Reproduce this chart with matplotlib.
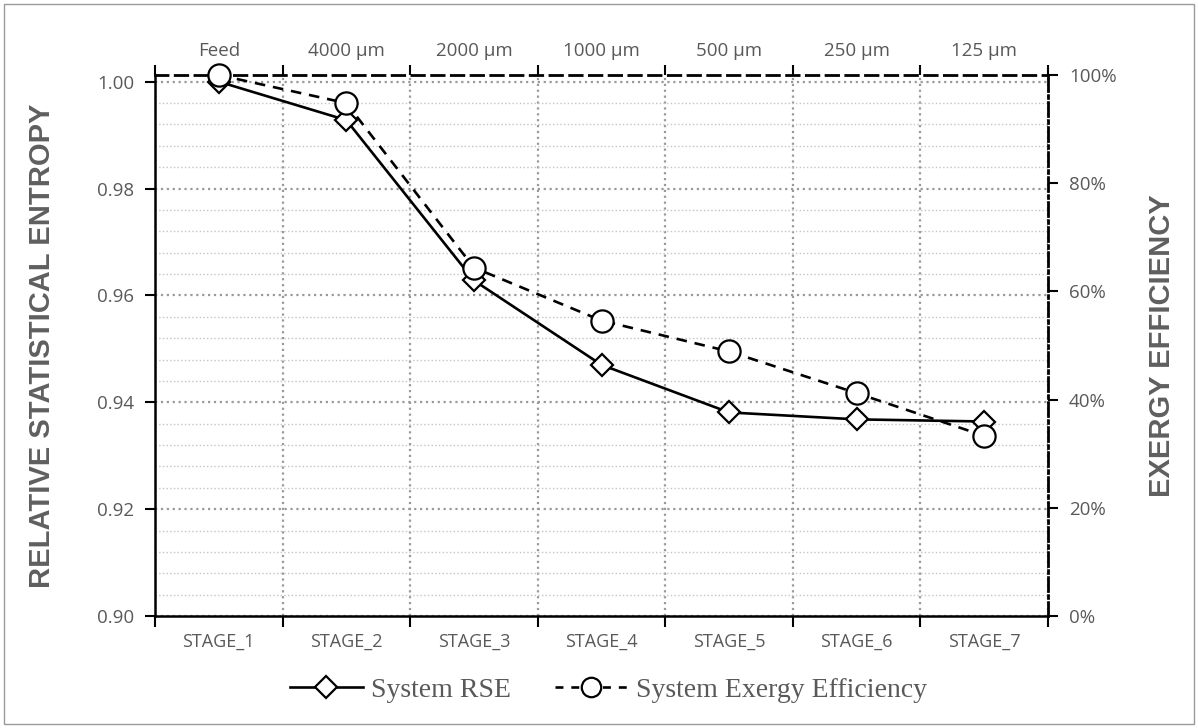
import matplotlib
matplotlib.use("Agg")
import matplotlib.pyplot as plt
from matplotlib.lines import Line2D
from matplotlib.patches import Rectangle
from matplotlib.ticker import PercentFormatter, FixedLocator
import numpy as np

# ---- data ----
stages = ["STAGE_1", "STAGE_2", "STAGE_3", "STAGE_4", "STAGE_5", "STAGE_6", "STAGE_7"]
sizes = ["Feed", "4000 µm", "2000 µm", "1000 µm", "500 µm", "250 µm", "125 µm"]
rse = [1.000, 0.9928, 0.9628, 0.9470, 0.9381, 0.9368, 0.9364]
exergy = [1.000, 0.948, 0.644, 0.546, 0.489, 0.412, 0.333]
left_ticks = [0.90, 0.92, 0.94, 0.96, 0.98, 1.00]
right_ticks = [0.0, 0.2, 0.4, 0.6, 0.8, 1.0]

TXT = "#595959"
SANS = "Open Sans"
BOLD = "Liberation Sans"

fig = plt.figure(figsize=(11.98, 7.28), dpi=100)
W, H = 1198, 728
ax = fig.add_axes([155 / W, (H - 616) / H, 893 / W, 541 / H])

x = np.arange(1, len(stages) + 1)
bounds = np.arange(0.5, len(stages) + 1, 1.0)

ax.set_xlim(0.5, len(stages) + 0.5)
ax.set_ylim(0.90, 1.00125)

# y ticks & grid
ax.yaxis.set_major_locator(FixedLocator(left_ticks))
ax.yaxis.set_minor_locator(FixedLocator(np.arange(0.904, 1.0, 0.004)))
ax.yaxis.set_major_formatter("{x:.2f}")
ax.tick_params(axis="y", which="major", direction="out", length=7, width=1.5,
               color="black", labelsize=13.5, labelcolor=TXT, pad=8)
ax.tick_params(axis="y", which="minor", length=0)
for lab in ax.get_yticklabels():
    lab.set_fontfamily(SANS)

# x ticks: boundaries as major (tick marks), centres as minor (labels)
ax.xaxis.set_major_locator(FixedLocator(bounds))
ax.xaxis.set_minor_locator(FixedLocator(x))
ax.set_xticklabels([])
ax.set_xticklabels(stages, minor=True, fontfamily=SANS)
ax.tick_params(axis="x", which="major", direction="out", length=8, width=1.5, color="black")
ax.tick_params(axis="x", which="minor", length=0, labelsize=13, labelcolor=TXT, pad=12)

ax.grid(axis="y", which="minor", color="#c4c4c4", ls=":", lw=1.0)
ax.grid(axis="y", which="major", color="#9a9a9a", ls=":", lw=1.6)
ax.grid(axis="x", which="major", color="#9a9a9a", ls=":", lw=1.6)
ax.set_axisbelow(True)

for s in ("left", "bottom"):
    ax.spines[s].set_color("black")
    ax.spines[s].set_linewidth(1.8)
ax.spines["top"].set_visible(False)
ax.spines["right"].set_visible(False)

# top axis with size classes
top = ax.secondary_xaxis("top")
top.set_xticks(bounds)
top.set_xticklabels([""] * len(bounds))
top.set_xticks(x, minor=True)
top.set_xticklabels(sizes, minor=True, fontfamily=SANS)
top.tick_params(axis="x", which="major", direction="out", length=7, width=1.5, color="black")
top.tick_params(axis="x", which="minor", length=0, labelsize=13.5, labelcolor=TXT, pad=11)
top.spines["top"].set_linestyle((0, (4.5, 2.6)))
top.spines["top"].set_linewidth(2.0)
top.spines["top"].set_color("black")

# right axis
ax2 = ax.twinx()
ax2.set_ylim(0, 1)
ax2.yaxis.set_major_locator(FixedLocator(right_ticks))
ax2.yaxis.set_major_formatter(PercentFormatter(1.0, decimals=0))
ax2.tick_params(axis="y", direction="out", length=7, width=1.5, color="black",
                labelsize=13.5, labelcolor=TXT, pad=8)
for lab in ax2.get_yticklabels():
    lab.set_fontfamily(SANS)
for s in ("left", "bottom", "top"):
    ax2.spines[s].set_visible(False)
ax2.spines["right"].set_linestyle((0, (5, 1.5, 1, 1.5)))
ax2.spines["right"].set_linewidth(2.0)
ax2.spines["right"].set_color("black")

# series
l1, = ax.plot(x, rse, color="black", lw=1.9, marker="D", ms=11.5, mfc="white",
              mec="black", mew=1.6, clip_on=False, zorder=5, label="System RSE")
l2, = ax2.plot(x, exergy, color="black", lw=1.9, ls=(0, (4, 3)), marker="o", ms=16,
               mfc="white", mec="black", mew=1.6, clip_on=False, zorder=6,
               label="System Exergy Efficiency")

# axis titles
ax.set_ylabel("RELATIVE STATISTICAL ENTROPY", fontsize=21, fontweight="bold",
              color="#5f5f5f", fontfamily=BOLD)
ax.yaxis.set_label_coords(-(155 - 56) / 893, 0.5)
ax2.set_ylabel("EXERGY EFFICIENCY", fontsize=21, fontweight="bold",
               color="#5f5f5f", fontfamily=BOLD)
ax2.yaxis.set_label_coords((1148 - 155) / 893, 0.5)

# legend
h1 = Line2D([], [], color="black", lw=1.9, marker="D", ms=11.5, mfc="white", mec="black", mew=1.6)
h2 = Line2D([], [], color="black", lw=1.9, ls=(0, (3, 3)), marker="o", ms=14, mfc="white", mec="black", mew=1.6)
leg = fig.legend([h1, h2], ["System RSE", "System Exergy Efficiency"], loc="center",
                 bbox_to_anchor=(0.508, 38 / H), ncol=2, frameon=False, handlelength=2.6,
                 columnspacing=1.6, handletextpad=0.3,
                 prop={"family": "Liberation Serif", "size": 20})
for t in leg.get_texts():
    t.set_color(TXT)

# chart border
fig.add_artist(Rectangle((4 / W, 4 / H), 1 - 8 / W, 1 - 8 / H, transform=fig.transFigure,
                         fill=False, ec="#9a9a9a", lw=1.0))

fig.savefig("out.png", dpi=100)
